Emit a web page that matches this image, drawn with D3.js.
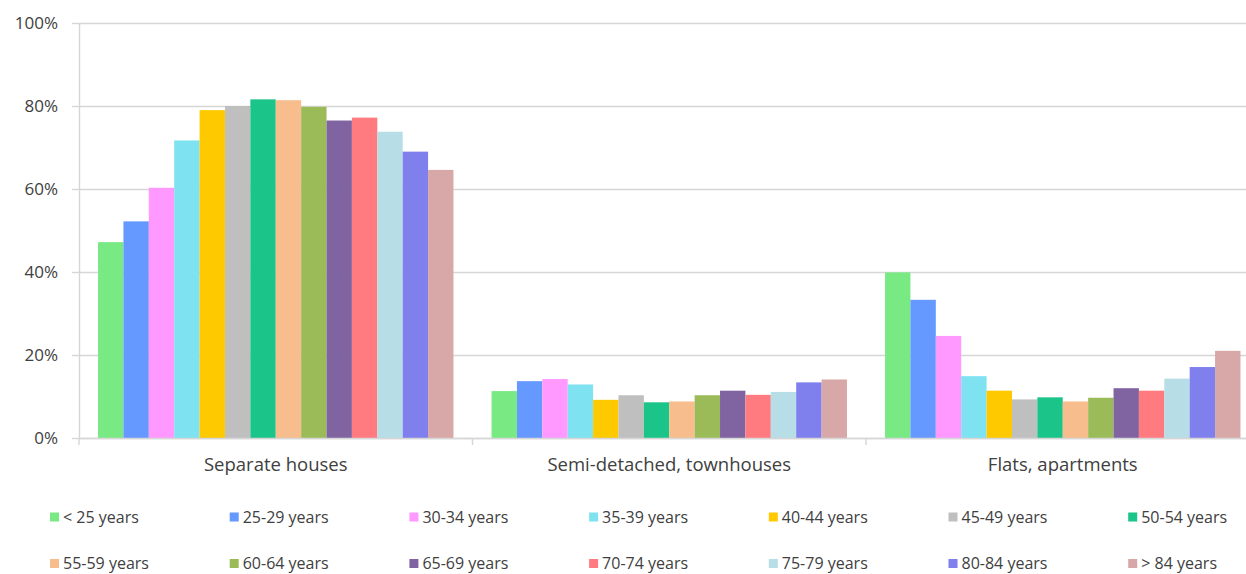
<!DOCTYPE html>
<html>
<head>
<meta charset="utf-8">
<script src="https://cdn.jsdelivr.net/npm/d3@7"></script>
<style>
  html, body { margin: 0; padding: 0; background: #ffffff; }
  svg { display: block; overflow: hidden; }
  text { font-family: "Open Sans", sans-serif; fill: #404040; }
</style>
</head>
<body>
<svg id="chart" width="1246" height="574"></svg>
<script>
const categories = ["Separate houses", "Semi-detached, townhouses", "Flats, apartments"];
const seriesNames = ["< 25 years", "25-29 years", "30-34 years", "35-39 years", "40-44 years",
  "45-49 years", "50-54 years", "55-59 years", "60-64 years", "65-69 years",
  "70-74 years", "75-79 years", "80-84 years", "> 84 years"];
const seriesColors = ["#79EA83", "#6699FF", "#FF99FF", "#7FE2F1", "#FFC900", "#BFBFBF", "#1BC489",
  "#F8BD8D", "#9BBB59", "#8064A2", "#FF7B7F", "#B7DDE6", "#7F7FEE", "#D8A7A7"];
// values in % per series, one array per category
const separateHouses = [47.2, 52.2, 60.3, 71.7, 79.0, 80.0, 81.6, 81.4, 79.8, 76.5, 77.2, 73.8, 69.0, 64.6];
const semiDetached   = [11.3, 13.7, 14.2, 12.9, 9.2, 10.3, 8.6, 8.8, 10.3, 11.4, 10.4, 11.1, 13.4, 14.1];
const flats          = [39.9, 33.3, 24.6, 14.9, 11.4, 9.3, 9.8, 8.8, 9.7, 12.0, 11.4, 14.3, 17.1, 21.0];
const yTicks = [0, 20, 40, 60, 80, 100];

const groupValues = [separateHouses, semiDetached, flats];
const data = categories.map((c, ci) => ({
  category: c,
  values: seriesNames.map((s, si) => ({ series: s, value: groupValues[ci][si] }))
}));

(function draw() {
  const svg = d3.select("#chart");
  const pLeft = 79, pRight = 1259.5, pTop = 23, pBottom = 438;
  const gridColor = "#d6d6d6";

  const x0 = d3.scaleBand().domain(categories).range([pLeft, pRight]).paddingInner(0).paddingOuter(0);
  const gapFrac = 1.5 / (seriesNames.length + 1.5) / 2;
  const x1 = d3.scaleBand().domain(seriesNames)
    .range([x0.bandwidth() * gapFrac, x0.bandwidth() * (1 - gapFrac)]).padding(0);
  const y = d3.scaleLinear().domain([0, 100]).range([pBottom, pTop]);
  const color = d3.scaleOrdinal().domain(seriesNames).range(seriesColors);

  // gridlines
  svg.append("g")
    .attr("transform", `translate(${pLeft},0)`)
    .call(d3.axisLeft(y).tickValues(yTicks).tickSizeInner(-(pRight - pLeft)).tickSizeOuter(0).tickFormat(""))
    .call(g => g.select(".domain").remove())
    .call(g => g.selectAll("line").attr("stroke", gridColor).attr("stroke-width", 1.4));

  // y axis with small ticks and labels
  svg.append("g")
    .attr("transform", `translate(${pLeft},0)`)
    .call(d3.axisLeft(y).tickValues(yTicks).tickSizeInner(7).tickSizeOuter(0).tickPadding(14)
      .tickFormat(d => d + "%"))
    .call(g => g.select(".domain").attr("stroke", gridColor).attr("stroke-width", 1.4))
    .call(g => g.selectAll("line").attr("stroke", gridColor).attr("stroke-width", 1.4))
    .call(g => g.selectAll("text").attr("font-size", 17).attr("fill", "#404040")
      .attr("font-family", "'Open Sans', sans-serif"));

  // bars
  const groups = svg.append("g").selectAll("g").data(data).join("g")
    .attr("transform", d => `translate(${x0(d.category)},0)`);
  groups.selectAll("rect").data(d => d.values).join("rect")
    .attr("x", d => x1(d.series))
    .attr("y", d => y(d.value))
    .attr("width", x1.bandwidth())
    .attr("height", d => y(0) - y(d.value))
    .attr("fill", d => color(d.series));

  // x axis (labels at category centres)
  svg.append("g")
    .attr("transform", `translate(0,${pBottom})`)
    .call(d3.axisBottom(x0).tickSize(0).tickPadding(20))
    .call(g => g.select(".domain").attr("stroke", gridColor).attr("stroke-width", 1.4))
    .call(g => g.selectAll("text").attr("font-size", 18.5).attr("fill", "#404040")
      .attr("font-family", "'Open Sans', sans-serif"));

  // category boundary ticks
  const boundaries = categories.map(c => x0(c)).concat([x0(categories[categories.length - 1]) + x0.bandwidth()]);
  svg.append("g").selectAll("line").data(boundaries).join("line")
    .attr("x1", d => d).attr("x2", d => d)
    .attr("y1", pBottom).attr("y2", pBottom + 7)
    .attr("stroke", gridColor).attr("stroke-width", 1.4);

  // legend
  const legendX = d3.scalePoint().domain(d3.range(7)).range([50, 50 + 179.7 * 6]);
  const legendY = d3.scalePoint().domain([0, 1]).range([517, 563.5]);
  const legend = svg.append("g").selectAll("g").data(seriesNames).join("g")
    .attr("transform", (d, i) => `translate(${legendX(i % 7)},${legendY(Math.floor(i / 7))})`);
  legend.append("rect")
    .attr("x", 0).attr("y", -4.5).attr("width", 9).attr("height", 9)
    .attr("fill", d => color(d));
  legend.append("text")
    .attr("x", 13).attr("y", 0).attr("dy", "0.35em")
    .attr("font-size", 16)
    .text(d => d);
})();
</script>
</body>
</html>
